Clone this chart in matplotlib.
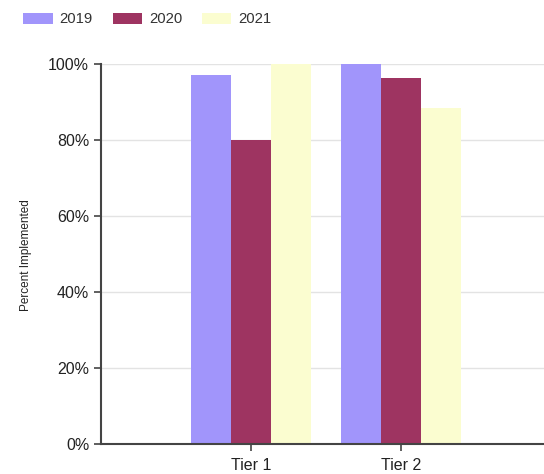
import numpy as np
import matplotlib
matplotlib.use("Agg")
import matplotlib.pyplot as plt
from matplotlib.ticker import PercentFormatter

# Datos
categorias = ["Tier 1", "Tier 2"]
anios = ["2019", "2020", "2021"]
valores_2019 = [97, 100]
valores_2020 = [80, 96.2]
valores_2021 = [100, 88.5]
colores = ["#a195fb", "#9e3461", "#fbfdd0"]

plt.rcParams["font.family"] = ["Liberation Sans", "DejaVu Sans"]

fig = plt.figure(figsize=(5.44, 4.74), dpi=100)
ax = fig.add_axes([101 / 544, 30 / 474, 1 - 101 / 544, 380 / 474])

x = np.arange(len(categorias))
ancho = 0.267
series = [valores_2019, valores_2020, valores_2021]
handles = []
for i, (serie, color, anio) in enumerate(zip(series, colores, anios)):
    b = ax.bar(x + (i - 1) * ancho, serie, ancho, color=color, label=anio, zorder=2)
    handles.append(b)

ax.set_ylim(0, 100)
ax.set_xlim(-1, 1.953)
ax.set_yticks([0, 20, 40, 60, 80, 100])
ax.yaxis.set_major_formatter(PercentFormatter(decimals=0))
ax.set_xticks(x)
ax.set_xticklabels(categorias)
ax.tick_params(axis="both", labelsize=11.5, colors="#444444", labelcolor="#222222",
               length=5, width=1.2)
ax.tick_params(axis="x", pad=5)
ax.grid(axis="y", color="#e3e3e3", linewidth=1, zorder=0)
ax.set_axisbelow(True)

for lado in ["top", "right"]:
    ax.spines[lado].set_visible(False)
for lado in ["left", "bottom"]:
    ax.spines[lado].set_color("#444444")
    ax.spines[lado].set_linewidth(1.5)
ax.spines["left"].set_bounds(0, 100)

fig.text(26 / 544, 1 - 255 / 474, "Percent Implemented", rotation=90,
         ha="center", va="center", fontsize=8.5, color="#222222")

fig.legend(handles=handles, labels=anios, loc="upper left",
           bbox_to_anchor=(10 / 544, 1 + 1 / 474), ncol=3, frameon=False,
           fontsize=10.7, handlelength=1.96, handleheight=0.74,
           handletextpad=0.47, columnspacing=1.35, labelcolor="#333333")

fig.savefig("out.png", dpi=100)
